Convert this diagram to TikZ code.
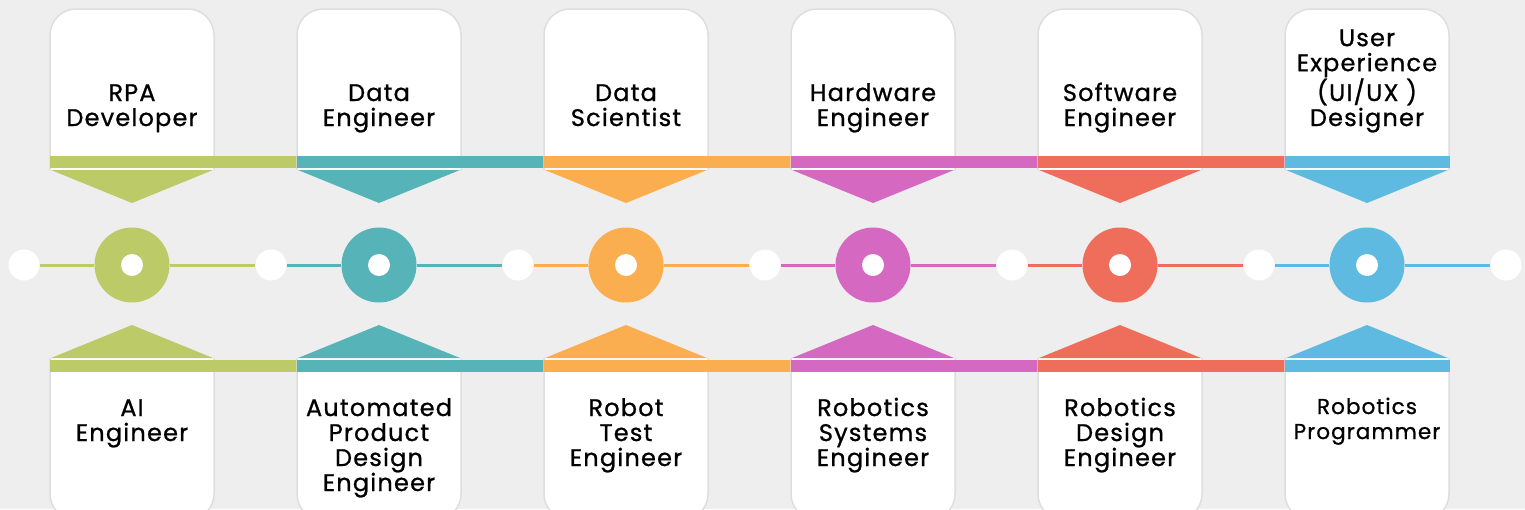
\documentclass[tikz,border=0pt]{standalone}
\usepackage{fontspec}
\setmainfont{Poppins}[FakeBold=0.9,LetterSpace=5]
\definecolor{bg}{HTML}{EEEEEE}
\definecolor{cardline}{HTML}{DEDEDE}
\definecolor{cA}{HTML}{BCCA68}
\definecolor{cB}{HTML}{56B3B8}
\definecolor{cC}{HTML}{FBAE4F}
\definecolor{cD}{HTML}{D568C1}
\definecolor{cE}{HTML}{EF6E5B}
\definecolor{cF}{HTML}{5EBAE0}
\tikzset{
  card/.style={fill=white,draw=cardline,line width=1.5pt},
  ring/.style={circle,inner sep=0pt,minimum size=75pt},
  hole/.style={circle,fill=white,inner sep=0pt,minimum size=22pt},
  whitedot/.style={circle,fill=white,inner sep=0pt,minimum size=31pt},
  link/.style={line width=3pt},
  label/.style={align=center,inner sep=0pt,font=\fontsize{24}{25}\selectfont},
  smalllabel/.style={align=center,inner sep=0pt,font=\fontsize{21.5}{25}\selectfont}
}
\begin{document}
\begin{tikzpicture}[x=1pt,y=-1pt]
\useasboundingbox[fill=bg] (0,0) rectangle (1525,509);
% white dots
\foreach \k in {0,...,6}{
  \node[whitedot] (w\k) at (24+247*\k,265) {};
}
\foreach \i/\col/\toptext/\bottext/\bsty/\bary in {
  0/cA/{RPA\\Developer}/{AI\\Engineer}/label/441,
  1/cB/{Data\\Engineer}/{Automated\\Product\\Design\\Engineer}/label/491,
  2/cC/{Data\\Scientist}/{Robot\\Test\\Engineer}/label/466,
  3/cD/{Hardware\\Engineer}/{Robotics\\Systems\\Engineer}/label/466,
  4/cE/{Software\\Engineer}/{Robotics\\Design\\Engineer}/label/466,
  5/cF/{User\\Experience\\(UI/UX )\\Designer}/{Robotics\\Programmer}/smalllabel/439}{
  \pgfmathsetmacro{\xc}{132+247*\i}
  \pgfmathsetmacro{\xl}{\xc-82}
  \pgfmathsetmacro{\xr}{\xc+82}
  \pgfmathsetmacro{\barend}{ifthenelse(\i==5,\xc+83,\xc+165)}
  % top card
  \path[card,rounded corners=26pt] (\xl,170) -- (\xl,9) -- (\xr,9) -- (\xr,170);
  \fill[\col] (\xl,156) rectangle (\barend,168);
  \fill[\col] (\xc-81,170) -- (\xc+81,170) -- (\xc,203) -- cycle;
  \node[label,anchor=base] (t\i) at (\xc,126) {\toptext};
  % bottom card
  \path[card,rounded corners=26pt] (\xl,358) -- (\xl,520) -- (\xr,520) -- (\xr,358);
  \fill[\col] (\xl,359.5) rectangle (\barend,372);
  \fill[\col] (\xc-81,358) -- (\xc+81,358) -- (\xc,325) -- cycle;
  \node[\bsty,anchor=base] (b\i) at (\xc,\bary) {\bottext};
  % timeline
  \pgfmathtruncatemacro{\nx}{\i+1}
  \node[ring,fill=\col] (r\i) at (\xc,265) {};
  \draw[link,\col] (w\i.east) -- (r\i.west);
  \draw[link,\col] (r\i.east) -- (w\nx.west);
  \node[hole] (h\i) at (r\i.center) {};
}
\end{tikzpicture}
\end{document}
